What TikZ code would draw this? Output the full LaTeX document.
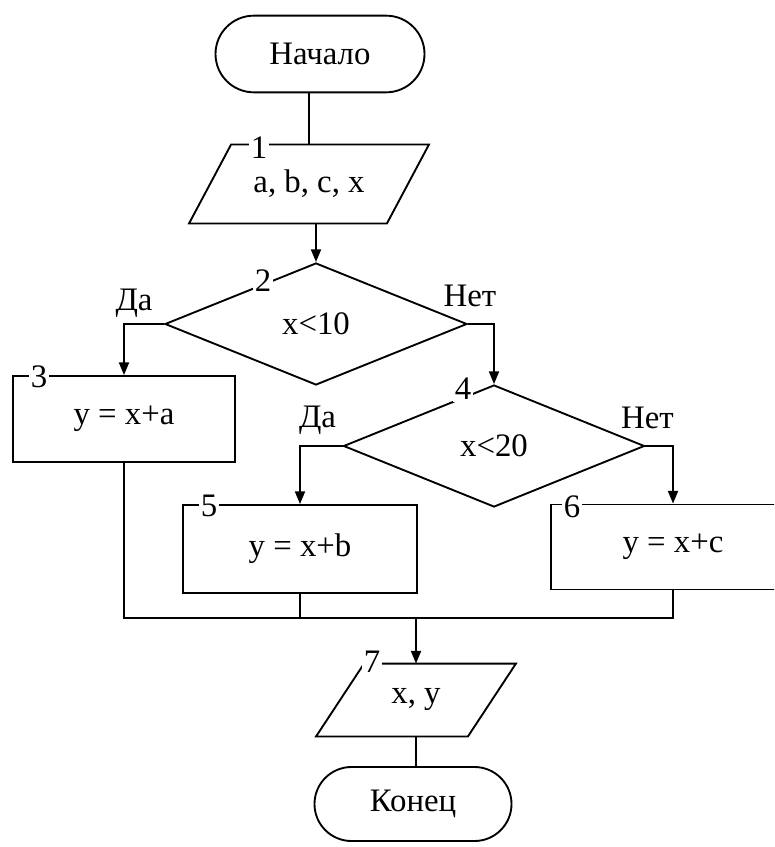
\documentclass[tikz,border=0pt]{standalone}
\usepackage{fontspec}
\setmainfont{Liberation Serif}
\newfontfamily\chartfont{Liberation Serif}
\usetikzlibrary{positioning, arrows.meta, shapes.geometric, shapes.misc}

\begin{document}
\begin{tikzpicture}[x=0.03cm, y=-0.03cm, >={Triangle[length=0.38cm, width=0.3cm]},
    line width=1.6pt,
    every node/.style={font=\chartfont\fontsize{28}{33}\selectfont},
    term/.style={draw, rounded rectangle, minimum height=2.3cm, inner sep=0pt},
    iobox/.style={rectangle, inner sep=0pt},
    block/.style={draw, rectangle, inner sep=0pt},
    cond/.style={draw, diamond, minimum width=9.06cm, minimum height=3.66cm, inner sep=0pt},
    num/.style={fill=white, inner sep=1.5pt},
  ]
    \clip (0,0) rectangle (774,847);

    % blocks
    \node[term, minimum width=6.27cm] (start) at (320,54) {Начало};
    \node[iobox, minimum width=5.88cm, minimum height=2.31cm] (in) at (309,184) {a, b, c, x};
    \node[cond] (c1) at (316,324) {x<10};
    \node[block, minimum width=6.66cm, minimum height=2.58cm] (b1) at (124,419) {y = x+a};
    \node[cond, minimum width=9.03cm] (c2) at (494,446) {x<20};
    \node[block, minimum width=7.02cm, minimum height=2.64cm] (b2) at (300,549) {y = x+b};
    \node[block, minimum width=7.32cm, minimum height=2.55cm] (b3) at (673,547) {y = x+c};
    \node[iobox, minimum width=4.5cm, minimum height=2.13cm] (out) at (416,700) {x, y};
    \node[term, minimum width=5.91cm, minimum height=2.22cm] (stop) at (413,804) {Конец};

    % slanted outlines of the input/output blocks
    \draw ([shift={(21,0)}]in.north west) -- ([shift={(21,0)}]in.north east)
        -- ([shift={(-21,0)}]in.south east) -- ([shift={(-21,0)}]in.south west) -- cycle;
    \draw ([shift={(24,0)}]out.north west) -- ([shift={(24,0)}]out.north east)
        -- ([shift={(-24,0)}]out.south east) -- ([shift={(-24,0)}]out.south west) -- cycle;

    % block numbers
    \node[num] (n1) at ([shift={(49,3)}]in.north west) {1};
    \node[num] (n2) at ([shift={(-53,19)}]c1.north) {2};
    \node[num] (n3) at ([shift={(27,2)}]b1.north west) {3};
    \node[num] (n4) at ([shift={(-31,5)}]c2.north) {4};
    \node[num] (n5) at ([shift={(27,2)}]b2.north west) {5};
    \node[num] (n6) at ([shift={(22,3)}]b3.north west) {6};
    \node[num] (n7) at ([shift={(32,-2)}]out.north west) {7};

    % branch labels
    \node (yes1) at ([shift={(-30,-21)}]c1.west) {Да};
    \node (no1) at ([shift={(2,-28)}]c1.east) {Нет};
    \node (yes2) at ([shift={(-25,-26)}]c2.west) {Да};
    \node (no2) at ([shift={(2,-28)}]c2.east) {Нет};

    % flow lines
    \draw (in.north) -- (in.north |- start.south);
    \draw[->] (in.south -| c1.north) -- (c1.north);
    \draw[->] (c1.west) -| (b1.north);
    \draw[->] (c1.east) -| (c2.north);
    \draw[->] (c2.west) -| (b2.north);
    \draw[->] (c2.east) -| (b3.north);

    \coordinate (join) at (out.north |- 0,618);
    \draw (b1.south) |- (b3.south |- join) -- (b3.south);
    \draw (b2.south) -- (b2.south |- join);
    \draw[->] (join) -- (out.north);
    \draw (out.south) -- (out.south |- stop.north);
\end{tikzpicture}
\end{document}
